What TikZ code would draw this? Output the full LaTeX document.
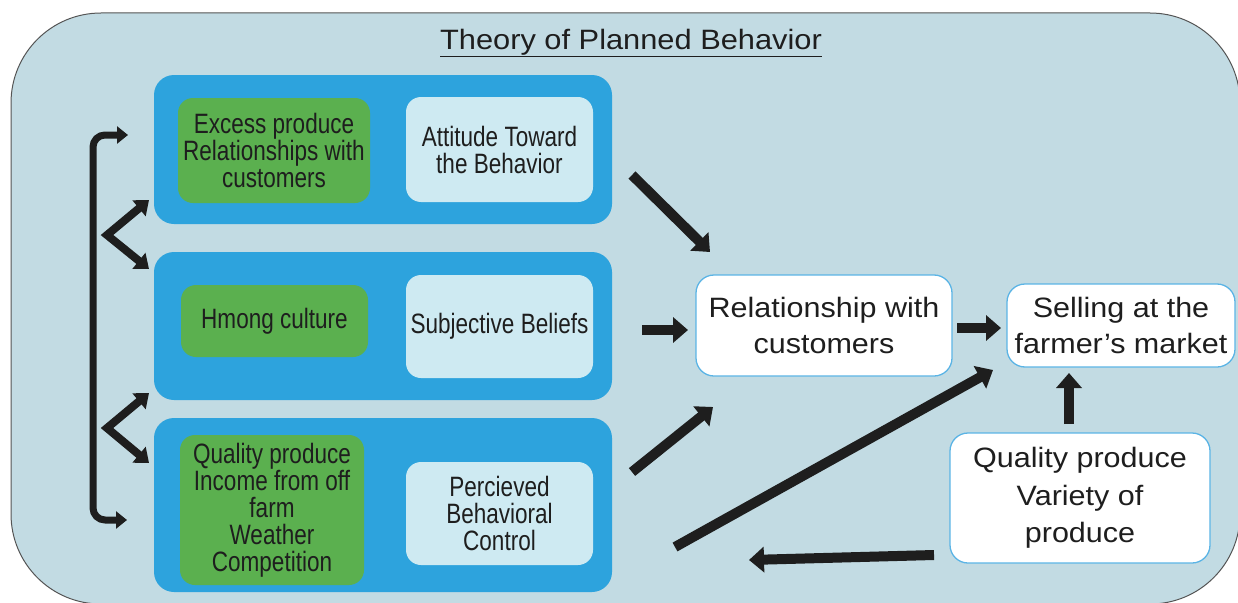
\documentclass[tikz,border=0pt]{standalone}
\usepackage{fontspec}
\setmainfont{Liberation Sans}
\newfontfamily\narrowf[FakeStretch=0.805]{Liberation Sans}
\newfontfamily\widef[FakeStretch=1.09]{Liberation Sans}
\newfontfamily\titlef[FakeStretch=1.1]{Liberation Sans}
\usetikzlibrary{arrows.meta}
\definecolor{outerfill}{RGB}{194,219,227}
\definecolor{outerline}{RGB}{85,85,85}
\definecolor{bluebox}{RGB}{45,163,221}
\definecolor{greenbox}{RGB}{91,176,79}
\definecolor{lightbox}{RGB}{206,234,242}
\definecolor{whiteline}{RGB}{91,180,229}
\definecolor{ink}{RGB}{30,30,30}
\tikzset{
  bluepanel/.style={fill=bluebox, draw=none, rounded corners=20pt},
  greenpanel/.style={fill=greenbox, draw=none, rounded corners=15pt, text=ink,
     align=center, font=\narrowf\fontsize{28}{27}\selectfont, inner sep=0pt},
  lightpanel/.style={fill=lightbox, draw=none, rounded corners=15pt, text=ink,
     align=center, font=\narrowf\fontsize{28}{27}\selectfont, inner sep=0pt},
  whitepanel/.style={fill=white, draw=whiteline, line width=1.3pt, rounded corners=18pt, text=ink,
     align=center, font=\widef\fontsize{28}{36}\selectfont, inner sep=0pt},
  bigarrow/.style={draw=ink, line width=10pt, -{Triangle[width=25pt,length=15pt]}},
  brackarrow/.style={draw=ink, line width=7pt, rounded corners=12pt, line join=round,
     {Triangle[width=17pt,length=11pt]}-{Triangle[width=17pt,length=11pt]}},
  chevron/.style={draw=ink, line width=8pt, line join=miter,
     {Triangle[width=20pt,length=13pt]}-{Triangle[width=20pt,length=13pt]}},
}
\begin{document}
\begin{tikzpicture}[x=1pt,y=-1pt]
\useasboundingbox (0,0) rectangle (1238,602);
% outer frame
\draw[fill=outerfill, draw=outerline, line width=1pt, rounded corners=90pt] (11,13) rectangle (1240,604);
\node[anchor=base, text=ink, font=\titlef\fontsize{28}{30}\selectfont] (title) at (631,49) {\underline{Theory of Planned Behavior}};

% blue panels
\path[bluepanel] (154,75) rectangle (612,224);
\path[bluepanel] (154,252) rectangle (612,400);
\path[bluepanel] (154,418) rectangle (612,592);

% green panels
\node[greenpanel, minimum width=192pt, minimum height=105pt] (g1) at (274,150.5)
  {Excess produce\\Relationships with\\customers};
\node[greenpanel, minimum width=187pt, minimum height=72pt] (g2) at (274.5,321)
  {Hmong culture};
\node[greenpanel, minimum width=184pt, minimum height=150pt] (g3) at (272,510)
  {Quality produce\\Income from off\\farm\\Weather\\Competition};

% light panels
\node[lightpanel, minimum width=187pt, minimum height=105pt] (l1) at (499.5,149.5)
  {Attitude Toward\\the Behavior};
\node[lightpanel, minimum width=187pt, minimum height=103pt] (l2) at (499.5,326.5)
  {Subjective Beliefs};
\node[lightpanel, minimum width=187pt, minimum height=103pt] (l3) at (499.5,513.5)
  {Percieved\\Behavioral\\Control};

% white panels
\node[whitepanel, minimum width=256pt, minimum height=101pt] (rel) at (824,325.5)
  {Relationship with\\customers};
\node[whitepanel, minimum width=228pt, minimum height=83pt] (sell) at (1121,325.5)
  {Selling at the\\farmer’s market};
\node[whitepanel, minimum width=260pt, minimum height=130pt, font=\widef\fontsize{28}{37.5}\selectfont] (qual) at (1080,498)
  {Quality produce\\Variety of\\produce};

% arrow end points
\coordinate (a1s) at (632,175);  \coordinate (a1e) at (710,252);
\coordinate (a2s) at (642,330);  \coordinate (a2e) at (688,330);
\coordinate (a3s) at (632,472);  \coordinate (a3e) at (713,407);
\coordinate (a4s) at (957,328);  \coordinate (a4e) at (1001,328);
\coordinate (a5s) at (675,547);  \coordinate (a5e) at (993,370);
\coordinate (a6s) at (1069,424); \coordinate (a6e) at (1069,373);
\coordinate (a7s) at (934,555);  \coordinate (a7e) at (749,560);

\draw[bigarrow] (a1s) -- (a1e);
\draw[bigarrow] (a2s) -- (a2e);
\draw[bigarrow] (a3s) -- (a3e);
\draw[bigarrow] (a4s) -- (a4e);
\draw[bigarrow] (a5s) -- (a5e);
\draw[bigarrow] (a6s) -- (a6e);
\draw[bigarrow] (a7s) -- (a7e);

% bracket on the left
\coordinate (bt) at (128,135); \coordinate (bb) at (127,520);
\coordinate (btc) at (93,135); \coordinate (bbc) at (93,520);
\draw[brackarrow] (bt) -- (btc) -- (bbc) -- (bb);

% chevrons
\coordinate (c1a) at (149,200); \coordinate (c1m) at (107,235); \coordinate (c1b) at (149,269);
\coordinate (c2a) at (149,393); \coordinate (c2m) at (107,428); \coordinate (c2b) at (149,463);
\draw[chevron] (c1a) -- (c1m) -- (c1b);
\draw[chevron] (c2a) -- (c2m) -- (c2b);
\end{tikzpicture}
\end{document}
